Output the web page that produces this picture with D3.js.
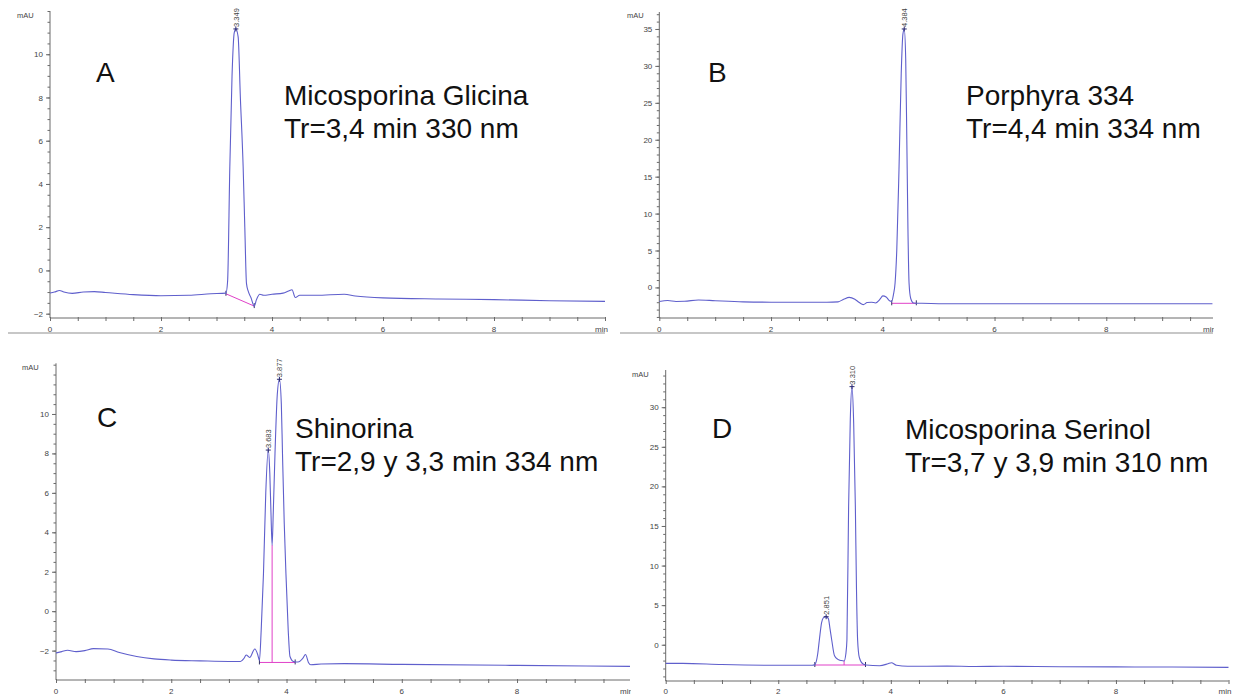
<!DOCTYPE html>
<html>
<head>
<meta charset="utf-8">
<script src="https://cdn.jsdelivr.net/npm/d3@7"></script>
<style>
  html, body { margin: 0; padding: 0; background: #fff; }
  svg { display: block; }
</style>
</head>
<body>
<svg id="chart" width="1238" height="695"></svg>
<script>
// ---------------- DATA ----------------
// Panel A : Micosporina Glicina
const tA = [0, 0.08, 0.17, 0.25, 0.4, 0.6, 0.8, 1.0, 1.5, 2.0, 2.5, 2.9, 3.17, 3.2, 3.24, 3.28, 3.32, 3.349, 3.39, 3.43, 3.48, 3.51, 3.54, 3.57, 3.62, 3.68, 3.72, 3.78, 3.85, 4.0, 4.2, 4.3, 4.36, 4.42, 4.5, 4.8, 5.3, 5.5, 6.0, 7.0, 8.0, 9.0, 10.0];
const vA = [-1.04, -1.0, -0.93, -1.0, -1.06, -1.0, -0.98, -1.02, -1.12, -1.17, -1.15, -1.08, -1.05, -0.5, 4.8, 9.0, 11.0, 11.17, 10.8, 8.0, 4.8, 2.0, -0.6, -0.95, -1.25, -1.65, -1.35, -1.1, -1.15, -1.1, -1.05, -0.95, -0.89, -1.25, -1.15, -1.15, -1.1, -1.18, -1.27, -1.32, -1.35, -1.4, -1.43];
const peaksA = [{t: 3.349, v: 11.17, label: "3.349"}];
const baseA = [[3.17, -1.08], [3.68, -1.65]];
const dropsA = [];

// Panel B : Porphyra 334
const tB = [0, 0.15, 0.3, 0.45, 0.7, 1.0, 1.5, 2.0, 2.5, 3.0, 3.2, 3.3, 3.4, 3.5, 3.58, 3.65, 3.72, 3.8, 3.87, 3.95, 4.0, 4.06, 4.12, 4.16, 4.19, 4.22, 4.25, 4.29, 4.33, 4.36, 4.384, 4.41, 4.43, 4.45, 4.47, 4.5, 4.55, 4.7, 5.0, 6.0, 8.0, 9.9];
const vB = [-1.9, -1.78, -1.9, -1.88, -1.7, -1.8, -1.95, -2.0, -2.0, -2.0, -1.95, -1.6, -1.35, -1.6, -2.05, -2.33, -2.05, -2.0, -2.1, -1.6, -1.15, -1.3, -1.8, -1.9, -1.0, 0.6, 5.0, 16.0, 29.0, 34.3, 35.0, 31.0, 20.0, 8.0, 0.6, -1.5, -2.1, -2.15, -2.2, -2.2, -2.2, -2.2];
const peaksB = [{t: 4.384, v: 35.0, label: "4.384"}];
const baseB = [[4.16, -2.15], [4.6, -2.15]];
const dropsB = [];

// Panel C : Shinorina
const tC = [0, 0.1, 0.2, 0.35, 0.5, 0.65, 0.9, 1.1, 1.4, 1.7, 2.0, 2.5, 3.0, 3.2, 3.26, 3.3, 3.36, 3.45, 3.5, 3.53, 3.56, 3.6, 3.64, 3.683, 3.71, 3.73, 3.75, 3.77, 3.8, 3.84, 3.877, 3.91, 3.93, 3.96, 3.99, 4.03, 4.06, 4.12, 4.2, 4.28, 4.33, 4.38, 4.42, 4.6, 5.0, 6.0, 8.0, 9.96];
const vC = [-2.12, -2.05, -1.98, -2.05, -2.0, -1.9, -1.92, -2.1, -2.3, -2.42, -2.48, -2.52, -2.55, -2.55, -2.4, -2.22, -2.35, -1.92, -2.2, -2.5, -1.0, 1.9, 6.0, 8.17, 7.0, 5.0, 3.35, 5.0, 8.0, 11.0, 11.76, 10.5, 8.0, 4.5, 1.9, -1.0, -2.3, -2.55, -2.58, -2.4, -2.2, -2.6, -2.72, -2.68, -2.66, -2.7, -2.75, -2.8];
const peaksC = [{t: 3.683, v: 8.17, label: "3.683"}, {t: 3.877, v: 11.76, label: "3.877"}];
const baseC = [[3.53, -2.6], [4.15, -2.6]];
const dropsC = [[3.75, 3.35, -2.6]];

// Panel D : Micosporina Serinol
const tD = [0, 0.3, 1.0, 2.0, 2.6, 2.65, 2.7, 2.73, 2.77, 2.8, 2.851, 2.89, 2.92, 2.95, 3.0, 3.06, 3.12, 3.17, 3.2, 3.22, 3.25, 3.28, 3.31, 3.34, 3.37, 3.39, 3.41, 3.44, 3.5, 3.56, 3.8, 3.95, 4.01, 4.1, 4.3, 5.0, 5.5, 6.0, 7.0, 8.0, 9.0, 10.0];
const vD = [-2.35, -2.35, -2.5, -2.6, -2.6, -2.5, -1.2, 0.6, 2.8, 3.4, 3.54, 3.3, 2.0, 0.6, -1.4, -1.85, -2.0, -2.05, -1.2, 0.6, 17.4, 28.5, 32.6, 28.0, 17.4, 7.0, 0.6, -1.6, -2.4, -2.55, -2.65, -2.4, -2.27, -2.6, -2.72, -2.7, -2.75, -2.72, -2.78, -2.8, -2.82, -2.86];
const peaksD = [{t: 2.851, v: 3.54, label: "2.851"}, {t: 3.310, v: 32.6, label: "3.310"}];
const baseD = [[2.65, -2.56], [3.55, -2.56]];
const dropsD = [[3.17, -2.05, -2.56]];

// Axis ticks
const xLabelTicks = [0, 2, 4, 6, 8];
const yLabelTicksSmall = [-2, 0, 2, 4, 6, 8, 10];
const yLabelTicksBig = [0, 5, 10, 15, 20, 25, 30, 35];

// Annotation texts
const letters = ["A", "B", "C", "D"];
const titles = [
  ["Micosporina Glicina", "Tr=3,4 min 330 nm"],
  ["Porphyra 334", "Tr=4,4 min 334 nm"],
  ["Shinorina", "Tr=2,9 y 3,3 min 334 nm"],
  ["Micosporina Serinol", "Tr=3,7 y 3,9 min 310 nm"]
];
const yUnit = "mAU";
const xUnit = "min";

// ---------------- LAYOUT ----------------
const panels = [
  {t: tA, v: vA, peaks: peaksA, base: baseA, drops: dropsA, yTicks: yLabelTicksSmall, yMinorStep: 0.5,
   xr: [50, 605], xd: [0, 10], yr: [318, 11], yd: [-2.2, 12.0], clipR: 608,
   letter: [96, 82], title: [284, 105], unitY: [17, 18], frameY: 333, frameX: [8, 605], labY: 332},
  {t: tB, v: vB, peaks: peaksB, base: baseB, drops: dropsB, yTicks: yLabelTicksBig, yMinorStep: 1,
   xr: [659.3, 1213], xd: [0, 9.91], yr: [318, 12], yd: [-4.14, 37.3], clipR: 1214,
   letter: [708, 82], title: [966, 105], unitY: [627, 18], frameY: 333, frameX: [620, 1213], labY: 332},
  {t: tC, v: vC, peaks: peaksC, base: baseC, drops: dropsC, yTicks: yLabelTicksSmall, yMinorStep: 0.5,
   xr: [56, 630], xd: [0, 9.96], yr: [680, 363.3], yd: [-3.49, 12.57], clipR: 631,
   letter: [97, 427], title: [295, 438], unitY: [22, 370], frameY: null, frameX: null, labY: 694},
  {t: tD, v: vD, peaks: peaksD, base: baseD, drops: dropsD, yTicks: yLabelTicksBig, yMinorStep: 1,
   xr: [665.7, 1228.5], xd: [0, 10], yr: [681, 370], yd: [-4.58, 34.7], clipR: 1238,
   letter: [712, 438], title: [905, 439], unitY: [632, 377], frameY: null, frameX: null, labY: 694}
];

const svg = d3.select("#chart");
const FONT = "'Liberation Sans', Arial, sans-serif";
const traceColor = "#5f5fcc";
const axisColor = "#6a6a6a";
const tickText = "#444";

panels.forEach((p, i) => {
  const clipId = "clip" + i;
  svg.append("clipPath").attr("id", clipId)
    .append("rect").attr("x", 0).attr("y", 0).attr("width", p.clipR).attr("height", 695);
  const g = svg.append("g").attr("clip-path", `url(#${clipId})`);

  const x = d3.scaleLinear().domain(p.xd).range(p.xr);
  const y = d3.scaleLinear().domain(p.yd).range(p.yr);
  const x0 = p.xr[0], yb = p.yr[0], yt = p.yr[1];

  // frame line under the panel
  if (p.frameY !== null) {
    g.append("line").attr("x1", p.frameX[0]).attr("x2", p.frameX[1])
      .attr("y1", p.frameY).attr("y2", p.frameY)
      .attr("stroke", "#b4b4b4").attr("stroke-width", 1.5);
  }

  // x axis
  const xAxis = d3.axisBottom(x)
    .tickValues(d3.range(0, p.xd[1] + 0.001, 0.5))
    .tickSize(3).tickFormat("");
  const gx = g.append("g").attr("transform", `translate(0,${yb})`).call(xAxis);
  gx.select(".domain").attr("stroke", axisColor).attr("d", `M${p.xr[0]},0H${p.xr[1]}`);
  gx.selectAll(".tick line").attr("stroke", axisColor).attr("y1", -1);
  g.selectAll(".xlab" + i).data(xLabelTicks).join("text")
    .attr("x", d => x(d)).attr("y", p.labY)
    .attr("text-anchor", "middle").attr("font-family", FONT)
    .attr("font-size", 8).attr("fill", tickText).text(d => d);
  g.append("text").attr("x", p.xr[1] - 10).attr("y", p.labY)
    .attr("font-family", FONT).attr("font-size", 8).attr("fill", tickText).text(xUnit);

  // y axis: minor ticks
  const minor = d3.range(Math.ceil(p.yd[0] / p.yMinorStep) * p.yMinorStep, p.yd[1] + 1e-6, p.yMinorStep);
  const yAxisMinor = d3.axisLeft(y).tickValues(minor).tickSize(2.5).tickFormat("");
  const gym = g.append("g").attr("transform", `translate(${x0},0)`).call(yAxisMinor);
  gym.select(".domain").attr("stroke", axisColor).attr("d", `M0,${yb}V${yt}`);
  gym.selectAll(".tick line").attr("stroke", axisColor);
  const majors = p.yTicks.filter(d => d >= p.yd[0] && d <= p.yd[1]);
  const yAxisMajor = d3.axisLeft(y).tickValues(majors).tickSize(4).tickPadding(3);
  const gy = g.append("g").attr("transform", `translate(${x0},0)`).call(yAxisMajor);
  gy.select(".domain").remove();
  gy.selectAll(".tick line").attr("stroke", axisColor);
  gy.selectAll(".tick text").attr("font-family", FONT).attr("font-size", 8).attr("fill", tickText);
  g.append("text").attr("x", p.unitY[0]).attr("y", p.unitY[1])
    .attr("font-family", FONT).attr("font-size", 7.5).attr("fill", tickText).text(yUnit);

  // integration baseline (pink)
  const line = d3.line().x(d => x(d[0])).y(d => y(d[1]));
  g.append("path").datum(p.base).attr("d", line)
    .attr("fill", "none").attr("stroke", "#e040c8").attr("stroke-width", 1);
  p.drops.forEach(dp => {
    g.append("line").attr("x1", x(dp[0])).attr("x2", x(dp[0]))
      .attr("y1", y(dp[1])).attr("y2", y(dp[2]))
      .attr("stroke", "#e040c8").attr("stroke-width", 1);
  });
  // baseline end markers
  p.base.forEach(b => {
    g.append("line").attr("x1", x(b[0])).attr("x2", x(b[0]))
      .attr("y1", y(b[1]) - 3).attr("y2", y(b[1]) + 2)
      .attr("stroke", "#333366").attr("stroke-width", 1);
  });

  // trace
  const pts = p.t.map((t, k) => [t, p.v[k]]);
  const trace = d3.line().x(d => x(d[0])).y(d => y(d[1])).curve(d3.curveMonotoneX);
  g.append("path").datum(pts).attr("d", trace)
    .attr("fill", "none").attr("stroke", traceColor).attr("stroke-width", 1.1);

  // peak apex markers and labels
  p.peaks.forEach(pk => {
    const px = x(pk.t), py = y(pk.v);
    g.append("path").attr("d", `M${px - 2.5},${py}H${px + 2.5}M${px},${py - 2.5}V${py + 2.5}`)
      .attr("stroke", "#2a2a70").attr("stroke-width", 1);
    g.append("text")
      .attr("transform", `translate(${px + 2.8},${py - 2}) rotate(-90)`)
      .attr("font-family", FONT).attr("font-size", 7.5).attr("fill", "#444")
      .text(pk.label);
  });

  // letter + title
  g.append("text").attr("x", p.letter[0]).attr("y", p.letter[1])
    .attr("font-family", FONT).attr("font-size", 28).attr("fill", "#111").text(letters[i]);
  g.append("text").attr("x", p.title[0]).attr("y", p.title[1])
    .attr("font-family", FONT).attr("font-size", 28).attr("fill", "#111").text(titles[i][0]);
  g.append("text").attr("x", p.title[0]).attr("y", p.title[1] + 33)
    .attr("font-family", FONT).attr("font-size", 28).attr("fill", "#111").text(titles[i][1]);
});
</script>
</body>
</html>
